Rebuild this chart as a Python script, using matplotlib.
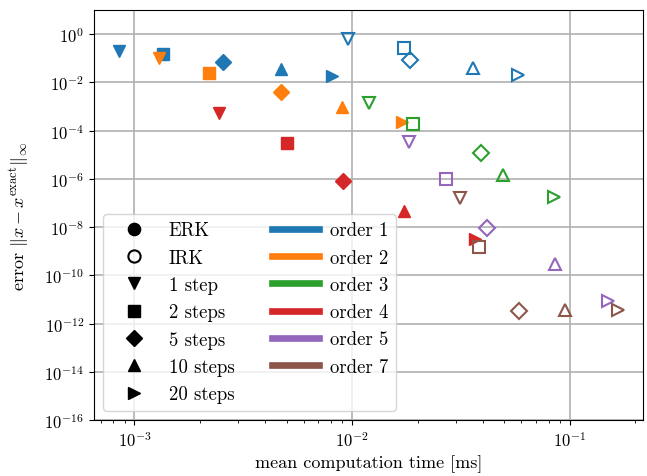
import matplotlib
matplotlib.use('Agg')
import matplotlib.pyplot as plt
from matplotlib.lines import Line2D

plt.rcParams['font.family'] = 'serif'
plt.rcParams['font.serif'] = ['cmr10']
plt.rcParams['mathtext.fontset'] = 'cm'
plt.rcParams['axes.unicode_minus'] = False
plt.rcParams['axes.formatter.use_mathtext'] = True
plt.rcParams['font.size'] = 12

# step counts -> marker
steps = [1, 2, 5, 10, 20]
step_markers = ['v', 's', 'D', '^', '>']
step_labels = ['1 step', '2 steps', '5 steps', '10 steps', '20 steps']

orders = [1, 2, 3, 4, 5, 7]
order_colors = ['tab:blue', 'tab:orange', 'tab:green', 'tab:red', 'tab:purple', 'tab:brown']

# explicit RK: time [ms] and error, one entry per step count (1,2,5,10,20)
erk_time = {
    1: [8.47e-4, 1.35e-3, 2.54e-3, 4.72e-3, 8.12e-3],
    2: [1.29e-3, 2.19e-3, 4.72e-3, 9.0e-3, 1.69e-2],
    4: [2.44e-3, 5.04e-3, 9.12e-3, 1.74e-2, 3.69e-2],
}
erk_err = {
    1: [0.197, 0.148, 0.071, 0.0354, 0.0187],
    2: [0.098, 0.0242, 3.83e-3, 9.1e-4, 2.31e-4],
    4: [5.15e-4, 3.11e-5, 8.0e-7, 4.72e-8, 3.17e-9],
}

# implicit RK
irk_time = {
    1: [9.6e-3, 1.74e-2, 1.85e-2, 3.6e-2, 5.79e-2],
    3: [1.2e-2, 1.91e-2, 3.92e-2, 4.93e-2, 8.51e-2],
    5: [1.82e-2, 2.71e-2, 4.15e-2, 8.57e-2, 0.150],
    7: [3.12e-2, 3.84e-2, 5.82e-2, 9.51e-2, 0.167],
}
irk_err = {
    1: [0.62, 0.255, 0.0836, 0.0378, 0.02],
    3: [1.38e-3, 1.86e-4, 1.16e-5, 1.43e-6, 1.8e-7],
    5: [3.43e-5, 9.7e-7, 9.05e-9, 2.91e-10, 8.75e-12],
    7: [1.63e-7, 1.52e-9, 3.38e-12, 3.6e-12, 3.72e-12],
}

fig = plt.figure(figsize=(6.47, 4.77), dpi=100)
ax = fig.add_axes([0.145, 0.117, 0.849, 0.860])

ms = 8.4
for o in erk_time:
    c = order_colors[orders.index(o)]
    for i, m in enumerate(step_markers):
        ax.plot(erk_time[o][i], erk_err[o][i], m, color=c, ms=ms, mec=c)

for o in irk_time:
    c = order_colors[orders.index(o)]
    for i, m in enumerate(step_markers):
        ax.plot(irk_time[o][i], irk_err[o][i], m, color=c, ms=ms, mfc='none', mec=c, mew=1.5)

ax.set_xscale('log')
ax.set_yscale('log')
ax.set_ylim(1e-16, 1e1)
ax.set_yticks([10.0**k for k in range(-16, 1, 2)])
ax.grid(True, which='major', color='#b0b0b0', lw=1.2)
ax.set_axisbelow(True)

ax.set_xlabel('mean computation time [ms]', fontsize=13, labelpad=4)
ax.set_ylabel(r'error $\|x - x^{\mathrm{exact}}\|_\infty$', fontsize=13, labelpad=9)

# legend: method / steps column and order column
handles = [Line2D([], [], ls='', marker='o', color='k', ms=8.8),
           Line2D([], [], ls='', marker='o', color='k', mfc='none', ms=8.8, mew=1.5)]
labels = ['ERK', 'IRK']
for m, l in zip(step_markers, step_labels):
    handles.append(Line2D([], [], ls='', marker=m, color='k', ms=ms))
    labels.append(l)
for o, c in zip(orders, order_colors):
    handles.append(Line2D([], [], color=c, lw=4.8))
    labels.append('order ' + str(o))
# pad second column so the order entries start at the top
handles.append(Line2D([], [], ls='', marker=''))
labels.append('')

ax.legend(handles, labels, ncol=2, loc='lower left', fontsize=13.5, handlelength=2.5,
          handletextpad=0.6, columnspacing=2.0, labelspacing=0.5)

fig.savefig('out.png', dpi=100)
